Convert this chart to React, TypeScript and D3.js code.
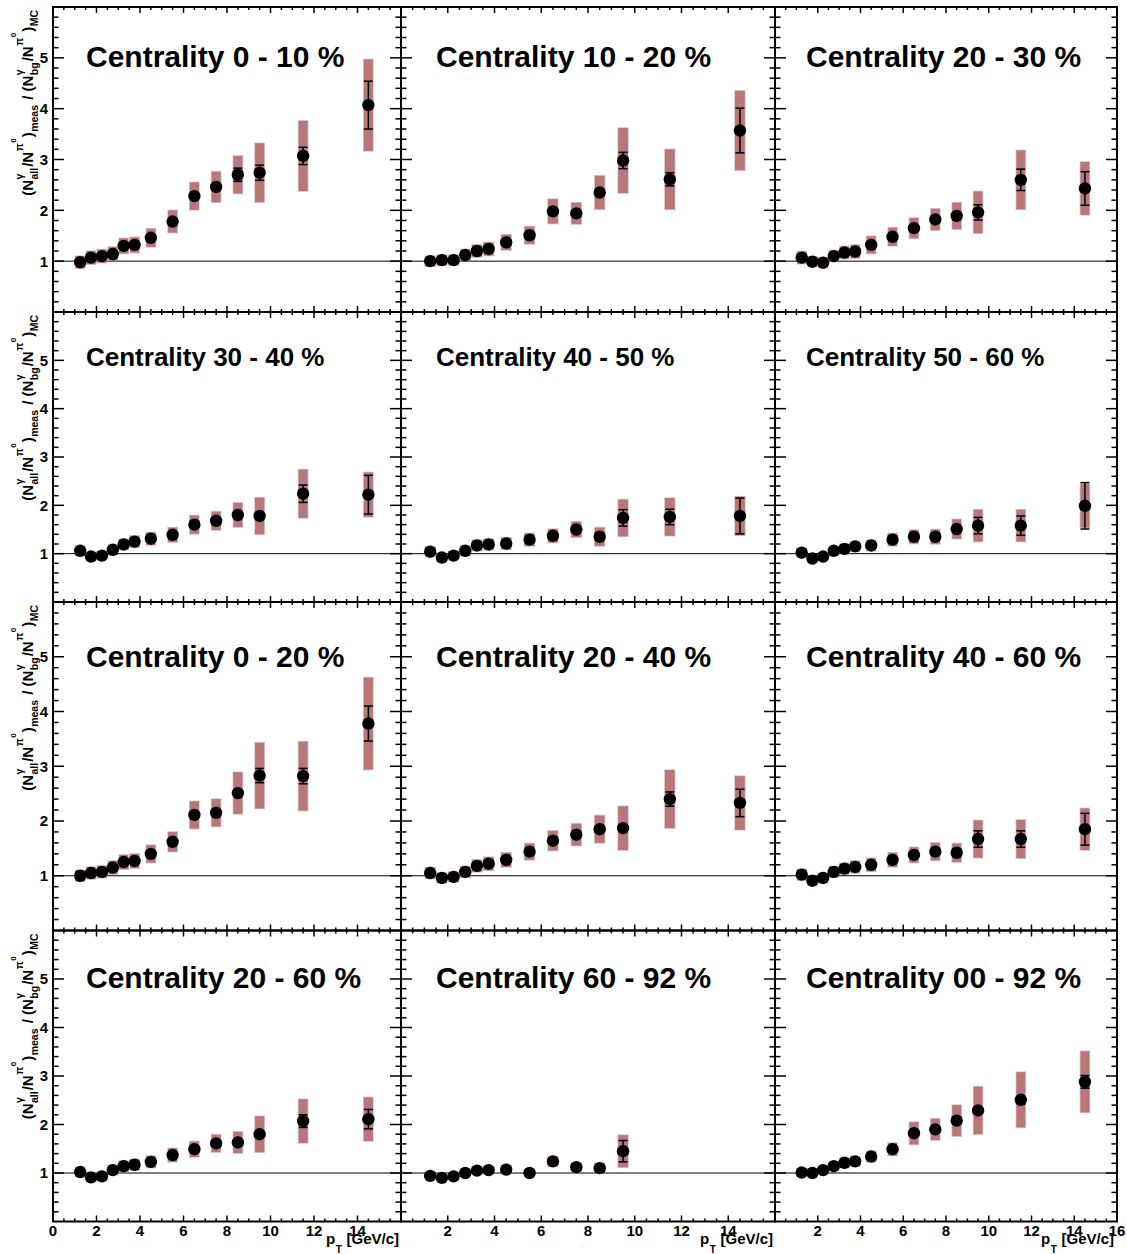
import React, { useMemo } from 'react';
import * as d3 from 'd3';

// ---------- DATA ----------
const ptBins = [1.25, 1.75, 2.25, 2.75, 3.25, 3.75, 4.5, 5.5, 6.5, 7.5, 8.5, 9.5, 11.5, 14.5];

const panelTitles = [
  'Centrality 0 - 10 %', 'Centrality 10 - 20 %', 'Centrality 20 - 30 %',
  'Centrality 30 - 40 %', 'Centrality 40 - 50 %', 'Centrality 50 - 60 %',
  'Centrality 0 - 20 %', 'Centrality 20 - 40 %', 'Centrality 40 - 60 %',
  'Centrality 20 - 60 %', 'Centrality 60 - 92 %', 'Centrality 00 - 92 %',
];

const y_0_10 = [0.98, 1.07, 1.1, 1.14, 1.3, 1.32, 1.46, 1.78, 2.28, 2.46, 2.7, 2.74, 3.07, 4.07];
const stat_0_10 = [0.02, 0.02, 0.02, 0.03, 0.03, 0.03, 0.04, 0.05, 0.07, 0.08, 0.13, 0.15, 0.17, 0.47];
const sys_0_10 = [0.12, 0.13, 0.13, 0.14, 0.15, 0.15, 0.18, 0.22, 0.27, 0.3, 0.37, 0.58, 0.69, 0.9];

const y_10_20 = [1.0, 1.02, 1.02, 1.12, 1.2, 1.24, 1.37, 1.51, 1.98, 1.94, 2.35, 2.98, 2.61, 3.57];
const stat_10_20 = [0.02, 0.02, 0.02, 0.02, 0.03, 0.03, 0.04, 0.05, 0.07, 0.08, 0.1, 0.16, 0.13, 0.44];
const sys_10_20 = [0.1, 0.1, 0.1, 0.11, 0.12, 0.13, 0.15, 0.17, 0.24, 0.21, 0.33, 0.64, 0.59, 0.78];

const y_20_30 = [1.07, 0.99, 0.97, 1.1, 1.17, 1.19, 1.32, 1.48, 1.65, 1.82, 1.89, 1.96, 2.6, 2.43];
const stat_20_30 = [0.02, 0.02, 0.02, 0.02, 0.03, 0.03, 0.04, 0.05, 0.06, 0.07, 0.08, 0.15, 0.21, 0.33];
const sys_20_30 = [0.12, 0.1, 0.1, 0.11, 0.12, 0.13, 0.17, 0.18, 0.2, 0.21, 0.26, 0.41, 0.58, 0.52];

const y_30_40 = [1.06, 0.94, 0.96, 1.08, 1.19, 1.25, 1.31, 1.39, 1.6, 1.68, 1.8, 1.78, 2.24, 2.22];
const stat_30_40 = [0.02, 0.02, 0.02, 0.02, 0.03, 0.03, 0.04, 0.05, 0.06, 0.07, 0.08, 0.12, 0.18, 0.4];
const sys_30_40 = [0.1, 0.09, 0.09, 0.1, 0.11, 0.12, 0.13, 0.15, 0.19, 0.19, 0.25, 0.38, 0.5, 0.46];

const y_40_50 = [1.04, 0.92, 0.96, 1.06, 1.17, 1.19, 1.21, 1.29, 1.37, 1.5, 1.35, 1.74, 1.76, 1.78];
const stat_40_50 = [0.02, 0.02, 0.02, 0.02, 0.03, 0.03, 0.04, 0.05, 0.06, 0.07, 0.08, 0.17, 0.16, 0.37];
const sys_40_50 = [0.1, 0.09, 0.09, 0.1, 0.11, 0.11, 0.12, 0.13, 0.14, 0.16, 0.19, 0.38, 0.39, 0.4];

const y_50_60 = [1.02, 0.9, 0.94, 1.06, 1.1, 1.15, 1.17, 1.29, 1.35, 1.35, 1.51, 1.58, 1.58, 1.99];
const stat_50_60 = [0.02, 0.02, 0.02, 0.02, 0.03, 0.03, 0.04, 0.05, 0.06, 0.07, 0.08, 0.17, 0.2, 0.48];
const sys_50_60 = [0.09, 0.08, 0.08, 0.09, 0.1, 0.1, 0.11, 0.13, 0.14, 0.15, 0.2, 0.33, 0.33, 0.45];

const y_0_20 = [1.0, 1.05, 1.07, 1.15, 1.25, 1.27, 1.4, 1.62, 2.11, 2.15, 2.51, 2.83, 2.82, 3.78];
const stat_0_20 = [0.02, 0.02, 0.02, 0.02, 0.03, 0.03, 0.04, 0.05, 0.06, 0.07, 0.08, 0.13, 0.14, 0.32];
const sys_0_20 = [0.1, 0.11, 0.11, 0.12, 0.13, 0.13, 0.16, 0.18, 0.25, 0.25, 0.38, 0.6, 0.63, 0.84];

const y_20_40 = [1.05, 0.96, 0.98, 1.07, 1.18, 1.22, 1.29, 1.44, 1.64, 1.75, 1.85, 1.87, 2.4, 2.33];
const stat_20_40 = [0.02, 0.02, 0.02, 0.02, 0.03, 0.03, 0.04, 0.05, 0.06, 0.07, 0.08, 0.1, 0.13, 0.25];
const sys_20_40 = [0.1, 0.09, 0.09, 0.1, 0.11, 0.12, 0.13, 0.15, 0.18, 0.2, 0.25, 0.4, 0.53, 0.49];

const y_40_60 = [1.02, 0.91, 0.96, 1.07, 1.13, 1.16, 1.2, 1.29, 1.38, 1.44, 1.42, 1.67, 1.67, 1.85];
const stat_40_60 = [0.02, 0.02, 0.02, 0.02, 0.03, 0.03, 0.04, 0.05, 0.06, 0.07, 0.08, 0.15, 0.15, 0.29];
const sys_40_60 = [0.1, 0.09, 0.09, 0.1, 0.1, 0.11, 0.12, 0.13, 0.14, 0.16, 0.17, 0.34, 0.35, 0.38];

const y_20_60 = [1.02, 0.91, 0.93, 1.06, 1.14, 1.17, 1.23, 1.37, 1.49, 1.61, 1.63, 1.8, 2.07, 2.11];
const stat_20_60 = [0.02, 0.02, 0.02, 0.02, 0.03, 0.03, 0.04, 0.05, 0.06, 0.07, 0.08, 0.1, 0.13, 0.2];
const sys_20_60 = [0.1, 0.09, 0.09, 0.1, 0.11, 0.11, 0.12, 0.14, 0.16, 0.18, 0.22, 0.37, 0.45, 0.45];

const y_60_92 = [0.94, 0.9, 0.93, 1.0, 1.05, 1.06, 1.07, 1.0, 1.24, 1.12, 1.1, 1.45];
const stat_60_92 = [0.02, 0.02, 0.02, 0.02, 0.03, 0.03, 0.04, 0.05, 0.06, 0.07, 0.08, 0.22];
const sys_60_92 = [0.07, 0.06, 0.06, 0.07, 0.07, 0.07, 0.08, 0.07, 0.1, 0.08, 0.1, 0.33];

const y_0_92 = [1.01, 1.0, 1.06, 1.14, 1.21, 1.24, 1.34, 1.49, 1.82, 1.9, 2.08, 2.29, 2.51, 2.88];
const stat_0_92 = [0.02, 0.02, 0.02, 0.02, 0.03, 0.03, 0.04, 0.05, 0.06, 0.07, 0.08, 0.1, 0.1, 0.13];
const sys_0_92 = [0.08, 0.08, 0.08, 0.09, 0.1, 0.1, 0.11, 0.13, 0.23, 0.22, 0.32, 0.49, 0.57, 0.63];

const panelValues = [y_0_10, y_10_20, y_20_30, y_30_40, y_40_50, y_50_60, y_0_20, y_20_40, y_40_60, y_20_60, y_60_92, y_0_92];
const panelStat = [stat_0_10, stat_10_20, stat_20_30, stat_30_40, stat_40_50, stat_50_60, stat_0_20, stat_20_40, stat_40_60, stat_20_60, stat_60_92, stat_0_92];
const panelSys = [sys_0_10, sys_10_20, sys_20_30, sys_30_40, sys_40_50, sys_50_60, sys_0_20, sys_20_40, sys_40_60, sys_20_60, sys_60_92, sys_0_92];

const yTickLabels = [1, 2, 3, 4, 5];
const xTickLabelsByCol = [
  [0, 2, 4, 6, 8, 10, 12, 14],
  [2, 4, 6, 8, 10, 12, 14],
  [2, 4, 6, 8, 10, 12, 14, 16],
];

// ---------- LAYOUT ----------
const W = 1127;
const H = 1254;
const colEdges = [53, 401, 775, 1117];
const rowEdges = [7, 312, 602, 930.5, 1221.5];
const titleX = [86, 436, 806];
const titleBaseline = [67, 366, 667, 988];
const titleSize = [30, 26, 30, 30];
const FONT = '"Liberation Sans", Arial, Helvetica, sans-serif';
const BOX_COLOR = '#b8787a';
const BOX_W = 0.42;
const MARKER_R = 6.2;

let _ctx: CanvasRenderingContext2D | null = null;
function measure(text: string, size: number): number {
  try {
    if (!_ctx) {
      const c = document.createElement('canvas');
      _ctx = c.getContext('2d');
    }
    if (_ctx) {
      _ctx.font = `bold ${size}px ${FONT}`;
      return _ctx.measureText(text).width;
    }
  } catch (e) {}
  return text.length * size * 0.6;
}

type Piece = { t: string; u: number; v: number; s: number };

function buildYTitle() {
  const MAIN = 15, SUB = 10.5, SS = 8;
  const items: Piece[] = [];
  let u = 0;
  const main = (t: string) => { items.push({ t, u, v: 0, s: MAIN }); u += measure(t, MAIN); };
  const supsub = (sup: string, sub: string) => {
    items.push({ t: sup, u: u + 0.5, v: -10, s: SUB });
    items.push({ t: sub, u: u + 0.5, v: 5, s: SUB });
    u += Math.max(measure(sup, SUB), measure(sub, SUB)) + 1.5;
  };
  const suppi = () => {
    items.push({ t: 'π', u: u + 0.5, v: -10, s: SUB });
    const w = measure('π', SUB);
    items.push({ t: '0', u: u + w + 1, v: -17, s: SS });
    u += w + measure('0', SS) + 2;
  };
  const sub = (t: string) => { items.push({ t, u: u + 0.5, v: 5, s: SUB }); u += measure(t, SUB) + 1.5; };
  main('(N'); supsub('γ', 'all'); main('/N'); suppi(); main(')'); sub('meas');
  main('\u00a0/\u00a0(N'); supsub('γ', 'bg'); main('/N'); suppi(); main(')'); sub('MC');
  return { items, L: u };
}

function Panel({ idx }: { idx: number }) {
  const row = Math.floor(idx / 3);
  const col = idx % 3;
  const x0 = colEdges[col], x1 = colEdges[col + 1];
  const yB = rowEdges[row + 1], yT = rowEdges[row];
  const x = d3.scaleLinear().domain([0, 16]).range([x0, x1]);
  const y = d3.scaleLinear().domain([0, 6]).range([yB, yT]);
  const vals = panelValues[idx];
  const stat = panelStat[idx];
  const sys = panelSys[idx];

  const yMaj = d3.range(1, 6, 1);
  const yMin = d3.range(1, 30).map((k) => k * 0.2).filter((v) => Math.abs(v - Math.round(v)) > 1e-6);
  const xMaj = d3.range(2, 16, 2);
  const xMin = d3.range(1, 32).map((k) => k * 0.5).filter((v) => Math.abs(v / 2 - Math.round(v / 2)) > 1e-6);

  const YM = 11, Ym = 5.5, XM = 6, Xm = 3;
  const ticks: React.ReactNode[] = [];
  yMaj.forEach((v, i) => {
    ticks.push(<line key={`yl${i}`} x1={x0} x2={x0 + YM} y1={y(v)} y2={y(v)} />);
    ticks.push(<line key={`yr${i}`} x1={x1} x2={x1 - YM} y1={y(v)} y2={y(v)} />);
  });
  yMin.forEach((v, i) => {
    ticks.push(<line key={`yml${i}`} x1={x0} x2={x0 + Ym} y1={y(v)} y2={y(v)} />);
    ticks.push(<line key={`ymr${i}`} x1={x1} x2={x1 - Ym} y1={y(v)} y2={y(v)} />);
  });
  xMaj.forEach((v, i) => {
    ticks.push(<line key={`xb${i}`} x1={x(v)} x2={x(v)} y1={yB} y2={yB - XM} />);
    ticks.push(<line key={`xt${i}`} x1={x(v)} x2={x(v)} y1={yT} y2={yT + XM} />);
  });
  xMin.forEach((v, i) => {
    ticks.push(<line key={`xmb${i}`} x1={x(v)} x2={x(v)} y1={yB} y2={yB - Xm} />);
    ticks.push(<line key={`xmt${i}`} x1={x(v)} x2={x(v)} y1={yT} y2={yT + Xm} />);
  });

  const bw = x(BOX_W) - x(0);

  return (
    <g>
      <line x1={x0} x2={x1} y1={y(1)} y2={y(1)} stroke="#000" strokeWidth={1} />
      {vals.map((v, i) => (
        <rect
          key={`s${i}`}
          x={x(ptBins[i]) - bw / 2}
          y={y(v + sys[i])}
          width={bw}
          height={y(v - sys[i]) - y(v + sys[i])}
          fill={BOX_COLOR}
          stroke="rgba(184,120,122,0.45)"
          strokeWidth={1.5}
        />
      ))}
      {vals.map((v, i) => {
        const cx = x(ptBins[i]);
        const top = y(v + stat[i]);
        const bot = y(v - stat[i]);
        if ((bot - top) / 2 <= MARKER_R) return null;
        return (
          <g key={`e${i}`} stroke="#000" strokeWidth={1.5}>
            <line x1={cx} x2={cx} y1={top} y2={bot} />
            <line x1={cx - 4.5} x2={cx + 4.5} y1={top} y2={top} />
            <line x1={cx - 4.5} x2={cx + 4.5} y1={bot} y2={bot} />
          </g>
        );
      })}
      {vals.map((v, i) => (
        <circle key={`m${i}`} cx={x(ptBins[i])} cy={y(v)} r={MARKER_R} fill="#000" />
      ))}
      <g stroke="#000" strokeWidth={1.5}>{ticks}</g>
      <rect x={x0} y={yT} width={x1 - x0} height={yB - yT} fill="none" stroke="#000" strokeWidth={2} />
      <text
        x={titleX[col]}
        y={titleBaseline[row]}
        fontSize={titleSize[row]}
        fontWeight="bold"
        fontFamily={FONT}
        fill="#000"
      >
        {panelTitles[idx]}
      </text>
      {col === 0 &&
        yTickLabels.map((v) => (
          <text key={`yt${v}`} x={x0 - 5} y={y(v)} dy="0.36em" textAnchor="end" fontSize={15} fontWeight="bold" fontFamily={FONT}>
            {v}
          </text>
        ))}
      {row === 3 &&
        xTickLabelsByCol[col].map((v) => (
          <text key={`xt${v}`} x={x(v)} y={1235.5} textAnchor="middle" fontSize={15} fontWeight="bold" fontFamily={FONT}>
            {v}
          </text>
        ))}
    </g>
  );
}

function XTitle({ right }: { right: number }) {
  const main = 15, sub = 10;
  const wp = measure('p', main);
  const wT = measure('T', sub);
  const wr = measure('\u00a0[GeV/c]', main);
  const start = right - (wp + wT + wr + 1);
  return (
    <g fontFamily={FONT} fontWeight="bold">
      <text x={start} y={1244} fontSize={main}>p</text>
      <text x={start + wp + 0.5} y={1253} fontSize={sub}>T</text>
      <text x={start + wp + wT + 1} y={1244} fontSize={main}>{'\u00a0[GeV/c]'}</text>
    </g>
  );
}

function YTitle({ top }: { top: number }) {
  const { items, L } = useMemo(buildYTitle, []);
  return (
    <g transform={`translate(33,${top + L}) rotate(-90)`} fontFamily={FONT} fontWeight="bold">
      {items.map((it, i) => (
        <text key={i} x={it.u} y={it.v} fontSize={it.s}>{it.t}</text>
      ))}
    </g>
  );
}

export default function App() {
  return (
    <div style={{ position: 'absolute', left: 0, top: 0, width: W, height: H, background: '#fff' }}>
      <svg width={W} height={H} viewBox={`0 0 ${W} ${H}`} style={{ display: 'block' }}>
        <rect x={0} y={0} width={W} height={H} fill="#fff" />
        {panelTitles.map((_, i) => (
          <Panel key={i} idx={i} />
        ))}
        {[0, 1, 2, 3].map((r) => (
          <YTitle key={r} top={rowEdges[r] + 2} />
        ))}
        <XTitle right={399} />
        <XTitle right={773} />
        <XTitle right={1114} />
      </svg>
    </div>
  );
}
